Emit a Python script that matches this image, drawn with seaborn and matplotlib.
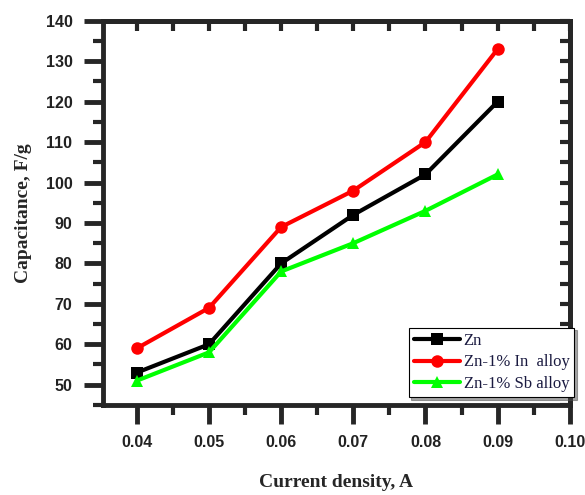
import matplotlib
matplotlib.use("Agg")
import matplotlib.pyplot as plt
import seaborn as sns
import pandas as pd
from matplotlib.ticker import MultipleLocator

current = [0.04, 0.05, 0.06, 0.07, 0.08, 0.09]
zn = [53, 60, 80, 92, 102, 120]
zn_in = [59, 69, 89, 98, 110, 133]
zn_sb = [51, 58, 78, 85, 93, 102]
labels = ["Zn", "Zn-1% In  alloy", "Zn-1% Sb alloy"]

sns.set_style("ticks")
plt.rcParams['font.family'] = ['Liberation Sans', 'DejaVu Sans']

fig = plt.figure(figsize=(5.85, 4.95), dpi=100)
ax = fig.add_axes([0.176, 0.182, 0.798, 0.776])

df = pd.DataFrame({
    "x": current * 3,
    "y": zn + zn_in + zn_sb,
    "s": [labels[0]] * 6 + [labels[1]] * 6 + [labels[2]] * 6,
})
colors = {labels[0]: "black", labels[1]: "#ff0000", labels[2]: "#00ff00"}
markers = {labels[0]: "s", labels[1]: "o", labels[2]: "^"}
sns.lineplot(data=df, x="x", y="y", hue="s", style="s", palette=colors,
             markers=markers, dashes=False, linewidth=3, markersize=9,
             markeredgewidth=0, ax=ax)

ax.set_xlim(0.0353, 0.1)
ax.set_ylim(45, 140)
ax.set_xticks([0.04, 0.05, 0.06, 0.07, 0.08, 0.09, 0.10])
ax.set_xticklabels(["0.04", "0.05", "0.06", "0.07", "0.08", "0.09", "0.10"])
ax.set_yticks([50, 60, 70, 80, 90, 100, 110, 120, 130, 140])
ax.xaxis.set_minor_locator(MultipleLocator(0.005))
ax.yaxis.set_minor_locator(MultipleLocator(5))

for sp in ax.spines.values():
    sp.set_linewidth(3.5)
    sp.set_visible(True)
ax.tick_params(which="major", direction="out", length=14, width=3.5,
               labelsize=11.5, pad=8, top=False, right=False)
ax.tick_params(which="minor", direction="out", length=7, width=3,
               top=False, right=False)
for lab in ax.get_xticklabels() + ax.get_yticklabels():
    lab.set_fontweight("bold")
    lab.set_color("#222222")

# inward ticks on top and right
secx = ax.secondary_xaxis("top")
secx.set_xticks([0.04, 0.05, 0.06, 0.07, 0.08, 0.09, 0.10])
secx.xaxis.set_minor_locator(MultipleLocator(0.005))
secx.tick_params(which="both", direction="in", length=7, width=3,
                 labeltop=False)
secx.spines["top"].set_linewidth(3.5)
secy = ax.secondary_yaxis("right")
secy.set_yticks([50, 60, 70, 80, 90, 100, 110, 120, 130, 140])
secy.yaxis.set_minor_locator(MultipleLocator(5))
secy.tick_params(which="both", direction="in", length=7, width=3,
                 labelright=False)
secy.spines["right"].set_linewidth(3.5)

ax.set_xlabel("Current density, A", family="Liberation Serif",
              fontsize=14, fontweight="bold", labelpad=17)
ax.set_ylabel("Capacitance, F/g", family="Liberation Serif",
              fontsize=14, fontweight="bold", labelpad=10)

leg = ax.legend(loc="lower right", bbox_to_anchor=(1.01, 0.02),
                prop={"family": "Liberation Serif", "size": 12},
                frameon=True, fancybox=False, shadow=True,
                handlelength=2.8, borderpad=0.3, labelspacing=0.35,
                handletextpad=0.2, borderaxespad=0.0)
leg.get_frame().set_edgecolor("black")
leg.get_frame().set_linewidth(0.8)
leg.set_zorder(10)
for txt in leg.get_texts():
    txt.set_color("#1a1a40")

fig.savefig("out.png", dpi=100)
